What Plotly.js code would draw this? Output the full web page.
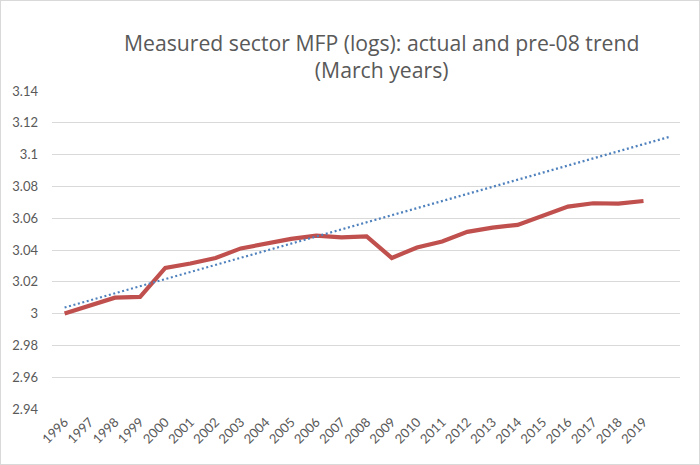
<!DOCTYPE html>
<html>
<head>
<meta charset="utf-8">
<script src="https://cdn.plot.ly/plotly-3.0.1.min.js"></script>
<style>
  html, body { margin: 0; padding: 0; background: #fff; }
  #chart { width: 698px; height: 463px; border: 1px solid #d9d9d9; }
</style>
</head>
<body>
<div id="chart"></div>
<script>
// Categories (March years)
const years = [1996, 1997, 1998, 1999, 2000, 2001, 2002, 2003, 2004, 2005, 2006, 2007,
               2008, 2009, 2010, 2011, 2012, 2013, 2014, 2015, 2016, 2017, 2018, 2019];
// Actual measured sector MFP (logs)
const actual = [3.000, 3.005, 3.010, 3.0105, 3.0287, 3.0315, 3.035, 3.041, 3.044, 3.047, 3.049, 3.048,
                3.0485, 3.035, 3.0416, 3.0453, 3.0514, 3.0541, 3.0558, 3.0614, 3.0673, 3.0694, 3.0692, 3.0708];
// Pre-08 linear trend (extends one period beyond the data)
const trendYears = [1996, 1997, 1998, 1999, 2000, 2001, 2002, 2003, 2004, 2005, 2006, 2007,
                    2008, 2009, 2010, 2011, 2012, 2013, 2014, 2015, 2016, 2017, 2018, 2019, 2020];
const trend = [3.0038, 3.0083, 3.0127, 3.0172, 3.0217, 3.0261, 3.0306, 3.0351, 3.0395, 3.0440, 3.0485, 3.0529,
               3.0574, 3.0619, 3.0663, 3.0708, 3.0753, 3.0797, 3.0842, 3.0887, 3.0931, 3.0976, 3.1021, 3.1065, 3.1110];
// Axis ticks
const yTicks = [2.94, 2.96, 2.98, 3, 3.02, 3.04, 3.06, 3.08, 3.1, 3.12, 3.14];
const yTickText = ["2.94", "2.96", "2.98", "3", "3.02", "3.04", "3.06", "3.08", "3.1", "3.12", "3.14"];
const xTickText = years.map(String);

const font = "Lato, 'Open Sans', sans-serif";
const titleFont = "'Open Sans', Lato, sans-serif";
const grey = "#595959";

const traces = [
  {
    x: years, y: actual, type: "scatter", mode: "lines",
    line: { color: "#c0504d", width: 4.2 },
    hoverinfo: "skip"
  },
  {
    x: trendYears, y: trend, type: "scatter", mode: "lines",
    line: { color: "#4f81bd", width: 2.2, dash: "2px,2.6px" },
    hoverinfo: "skip"
  }
];

const layout = {
  width: 698, height: 463,
  margin: { l: 51, r: 19, t: 90, b: 55 },
  paper_bgcolor: "#ffffff",
  plot_bgcolor: "#ffffff",
  showlegend: false,
  title: {
    text: "Measured sector MFP (logs): actual and pre-08 trend<br>(March years)",
    font: { family: titleFont, size: 21.2, color: grey },
    x: 0.525, xref: "paper", xanchor: "center",
    y: 0.893, yref: "container", yanchor: "middle"
  },
  xaxis: {
    type: "linear",
    range: [1995.5, 2020.45],
    tickmode: "array", tickvals: years, ticktext: xTickText,
    tickangle: -45,
    tickfont: { family: font, size: 13, color: grey },
    showgrid: false, zeroline: false, showline: false,
    ticks: "", ticklabelstandoff: 2,
    fixedrange: true
  },
  yaxis: {
    range: [2.94, 3.14],
    tickmode: "array", tickvals: yTicks, ticktext: yTickText,
    tickfont: { family: font, size: 13, color: grey },
    showgrid: true, gridcolor: "#d9d9d9", gridwidth: 1,
    zeroline: false, showline: false,
    ticks: "", ticklabelstandoff: 13,
    fixedrange: true
  }
};

Plotly.newPlot("chart", traces, layout, { displayModeBar: false, staticPlot: true });
</script>
</body>
</html>
